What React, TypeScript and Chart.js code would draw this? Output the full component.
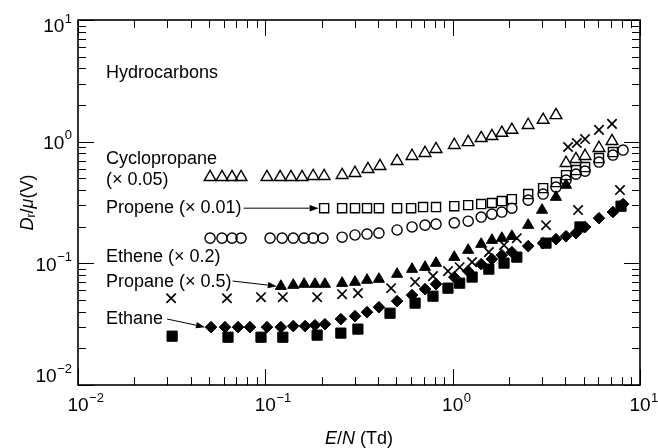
import React, { useEffect, useRef } from "react";
import { Chart, registerables } from "chart.js";
Chart.register(...registerables);

// ---- data (E/N in Td, Dr/mu in V) ----
const openTriX = [0.0507,0.0587,0.0664,0.0742,0.102,0.120,0.137,0.157,0.180,0.206,0.257,0.301,0.353,0.409,0.505,0.607,0.712,0.815,1.02,1.21,1.42,1.62,1.83,2.07,2.53,3.04,3.56,4.03,4.55,5.09,6.04,7.09];
const openTriY = [0.511,0.511,0.511,0.511,0.511,0.511,0.511,0.511,0.521,0.521,0.531,0.552,0.595,0.630,0.692,0.762,0.806,0.869,0.938,0.99,1.07,1.11,1.18,1.25,1.37,1.51,1.65,0.667,0.719,0.762,0.886,1.01];

const openSqX = [0.206,0.257,0.301,0.349,0.404,0.505,0.600,0.695,0.815,1.02,1.21,1.42,1.62,1.83,2.07,2.53,3.04,3.56,4.03,4.55,5.09,6.04,7.17];
const openSqY = [0.284,0.284,0.284,0.284,0.284,0.284,0.284,0.290,0.290,0.295,0.301,0.307,0.313,0.325,0.337,0.371,0.415,0.465,0.531,0.584,0.618,0.733,0.821];

const openCircX = [0.0507,0.0587,0.0664,0.0742,0.106,0.123,0.141,0.161,0.180,0.203,0.257,0.301,0.349,0.404,0.505,0.607,0.712,0.815,1.02,1.21,1.42,1.62,1.83,2.07,2.53,3.04,3.56,4.03,4.55,5.09,6.04,7.17,8.12];
const openCircY = [0.161,0.161,0.161,0.161,0.161,0.161,0.161,0.161,0.161,0.161,0.164,0.171,0.174,0.177,0.188,0.199,0.206,0.210,0.215,0.222,0.240,0.254,0.264,0.284,0.331,0.371,0.423,0.483,0.541,0.573,0.680,0.776,0.853];

const filledTriX = [0.121,0.141,0.161,0.184,0.208,0.257,0.301,0.349,0.404,0.505,0.607,0.712,0.815,1.02,1.21,1.42,1.62,1.83,2.07,2.53,3.00,3.56,4.03];
const filledTriY = [0.0649,0.0662,0.0675,0.0675,0.0675,0.0687,0.0701,0.0728,0.0742,0.0815,0.0896,0.0930,0.1004,0.1124,0.1284,0.1438,0.155,0.161,0.167,0.206,0.274,0.350,0.440];

const crossX = [0.0314,0.0624,0.0948,0.124,0.189,0.257,0.312,0.469,0.630,0.785,0.944,1.09,1.27,1.56,1.88,2.20,3.15,4.67,7.82,4.13,4.60,5.09,6.04,7.09];
const crossY = [0.0517,0.0517,0.0527,0.0527,0.0527,0.0558,0.0569,0.0625,0.0701,0.0785,0.0863,0.0930,0.1023,0.1236,0.1411,0.161,0.206,0.274,0.400,0.903,0.974,1.05,1.25,1.40];

const filledSqX = [0.0318,0.0632,0.0948,0.124,0.189,0.253,0.312,0.463,0.630,0.785,0.944,1.09,1.27,1.56,1.88,2.20,3.15,4.78,7.92];
const filledSqY = [0.0252,0.0247,0.0247,0.0247,0.0257,0.0267,0.0288,0.0389,0.0471,0.0537,0.0625,0.0687,0.0771,0.0896,0.1004,0.1124,0.1466,0.199,0.295];

const diamondX = [0.0513,0.0609,0.0715,0.0828,0.102,0.121,0.141,0.163,0.184,0.208,0.253,0.301,0.349,0.404,0.505,0.607,0.712,0.815,1.02,1.21,1.42,1.62,1.83,2.07,2.53,3.04,3.56,4.03,4.55,5.09,6.04,7.17,8.12];
const diamondY = [0.0299,0.0299,0.0299,0.0299,0.0299,0.0299,0.0305,0.0305,0.0310,0.0316,0.0348,0.0368,0.0397,0.0436,0.0489,0.0548,0.0614,0.0675,0.0770,0.0863,0.0985,0.1083,0.1168,0.1236,0.1385,0.1466,0.158,0.167,0.177,0.199,0.235,0.264,0.307];

const xDecades = [-2, -1, 0, 1];
const yDecades = [-2, -1, 0, 1];
const xTickSup = ["\u22122", "\u22121", "0", "1"];
const yTickSup = ["\u22122", "\u22121", "0", "1"];

const panelTitle = "Hydrocarbons";
const seriesLabels = ["Cyclopropane", "(\u00d7 0.05)", "Propene (\u00d7 0.01)", "Ethene (\u00d7 0.2)", "Propane (\u00d7 0.5)", "Ethane"];

const FF = '"Liberation Sans", Arial, Helvetica, sans-serif';
const f = (size: number, italic = false) => `${italic ? "italic " : ""}${size}px ${FF}`;

const zip = (xs: number[], ys: number[]) => xs.map((x, i) => ({ x, y: ys[i] }));

function arrow(ctx: CanvasRenderingContext2D, x1: number, y1: number, x2: number, y2: number) {
  const ang = Math.atan2(y2 - y1, x2 - x1);
  const hl = 9, hw = 3.2;
  const bx = x2 - hl * Math.cos(ang), by = y2 - hl * Math.sin(ang);
  ctx.beginPath();
  ctx.moveTo(x1, y1);
  ctx.lineTo(bx, by);
  ctx.lineWidth = 1;
  ctx.strokeStyle = "#000";
  ctx.stroke();
  ctx.beginPath();
  ctx.moveTo(x2, y2);
  ctx.lineTo(bx - hw * Math.sin(ang), by + hw * Math.cos(ang));
  ctx.lineTo(bx + hw * Math.sin(ang), by - hw * Math.cos(ang));
  ctx.closePath();
  ctx.fillStyle = "#000";
  ctx.fill();
}

const decor = {
  id: "decor",
  afterDraw(chart: any) {
    const ctx: CanvasRenderingContext2D = chart.ctx;
    const { left, right, top, bottom } = chart.chartArea;
    const xs = chart.scales.x, ys = chart.scales.y;
    ctx.save();
    ctx.strokeStyle = "#000";
    ctx.fillStyle = "#000";
    // frame
    ctx.lineWidth = 1.6;
    ctx.strokeRect(left, top, right - left, bottom - top);
    // ticks
    ctx.lineWidth = 1;
    const major = 16, minor = 8;
    ctx.beginPath();
    for (let d = -2; d <= 1; d++) {
      for (let k = 1; k <= 9; k++) {
        if (d === 1 && k > 1) break;
        const v = k * Math.pow(10, d);
        const len = k === 1 ? major : minor;
        const px = Math.round(xs.getPixelForValue(v)) + 0.5;
        const py = Math.round(ys.getPixelForValue(v)) + 0.5;
        ctx.moveTo(px, bottom); ctx.lineTo(px, bottom - len);
        ctx.moveTo(px, top); ctx.lineTo(px, top + len);
        ctx.moveTo(left, py); ctx.lineTo(left + len, py);
        ctx.moveTo(right, py); ctx.lineTo(right - len, py);
      }
    }
    ctx.stroke();

    // tick labels
    ctx.textBaseline = "middle";
    xDecades.forEach((d, i) => {
      const px = xs.getPixelForValue(Math.pow(10, d));
      ctx.font = f(19);
      const w = ctx.measureText("10").width;
      ctx.textAlign = "center";
      ctx.fillText("10", px, 406);
      ctx.font = f(13);
      ctx.textAlign = "left";
      ctx.fillText(xTickSup[i], px + w / 2 + 0.5, 398);
    });
    const yLabelShift = [-8, 2, 2, 7];
    yDecades.forEach((d, i) => {
      const py = ys.getPixelForValue(Math.pow(10, d)) + yLabelShift[i];
      ctx.font = f(13);
      const ws = ctx.measureText(yTickSup[i]).width;
      ctx.font = f(19);
      const w = ctx.measureText("10").width;
      const xEnd = 72;
      ctx.textAlign = "left";
      ctx.fillText("10", xEnd - ws - 0.5 - w, py);
      ctx.font = f(13);
      ctx.fillText(yTickSup[i], xEnd - ws, py - 8);
    });

    // x axis title
    ctx.textAlign = "left";
    const runsX: [string, boolean][] = [["E", true], ["/", false], ["N", true], [" (Td)", false]];
    let tw = 0;
    runsX.forEach(([t, it]) => { ctx.font = f(18, it); tw += ctx.measureText(t).width; });
    let cx = (left + right) / 2 - tw / 2;
    runsX.forEach(([t, it]) => { ctx.font = f(18, it); ctx.fillText(t, cx, 439); cx += ctx.measureText(t).width; });

    // y axis title (rotated)
    ctx.save();
    ctx.translate(28, (top + bottom) / 2);
    ctx.rotate(-Math.PI / 2);
    const runsY: [string, number, boolean, number][] = [["D", 18, true, 0], ["r", 12, false, 4], ["/", 18, false, 0], ["\u03bc", 18, true, 0], ["(V)", 18, false, 0]];
    let yw = 0;
    runsY.forEach(([t, s, it]) => { ctx.font = f(s, it); yw += ctx.measureText(t).width; });
    let cy = -yw / 2;
    runsY.forEach(([t, s, it, dy]) => { ctx.font = f(s, it); ctx.fillText(t, cy, dy); cy += ctx.measureText(t).width; });
    ctx.restore();

    // annotations
    ctx.font = f(18);
    ctx.textAlign = "left";
    ctx.fillText(panelTitle, 106, 73);
    ctx.fillText(seriesLabels[0], 106, 159);
    ctx.fillText(seriesLabels[1], 106, 180);
    ctx.fillText(seriesLabels[2], 106, 208);
    ctx.fillText(seriesLabels[3], 106, 257);
    ctx.fillText(seriesLabels[4], 106, 282);
    ctx.fillText(seriesLabels[5], 106, 319);

    const w2 = ctx.measureText(seriesLabels[2]).width;
    const sqx = xs.getPixelForValue(openSqX[0]), sqy = ys.getPixelForValue(openSqY[0]);
    arrow(ctx, 106 + w2 + 2, sqy, sqx - 5.5, sqy);
    const w4 = ctx.measureText(seriesLabels[4]).width;
    const tx = xs.getPixelForValue(filledTriX[0]), ty = ys.getPixelForValue(filledTriY[0]);
    arrow(ctx, 106 + w4 + 1, 281, tx - 4, ty);
    const w5 = ctx.measureText(seriesLabels[5]).width;
    const dx = xs.getPixelForValue(diamondX[0]), dy = ys.getPixelForValue(diamondY[0]);
    arrow(ctx, 106 + w5 + 4, 319, dx - 6, dy);

    ctx.restore();
  },
};

export default function App() {
  const ref = useRef<HTMLCanvasElement>(null);
  useEffect(() => {
    if (!ref.current) return;
    const base = { showLine: false, borderColor: "#000" };
    const chart = new Chart(ref.current, {
      type: "scatter",
      data: {
        datasets: [
          { ...base, label: "open triangles", data: zip(openTriX, openTriY), pointStyle: "triangle", pointRadius: 6.8, borderWidth: 1.4, backgroundColor: "rgba(0,0,0,0)" },
          { ...base, label: "open squares", data: zip(openSqX, openSqY), pointStyle: "rect", pointRadius: 6.4, borderWidth: 1.4, backgroundColor: "rgba(0,0,0,0)" },
          { ...base, label: "open circles", data: zip(openCircX, openCircY), pointStyle: "circle", pointRadius: 5.1, borderWidth: 1.4, backgroundColor: "rgba(0,0,0,0)" },
          { ...base, label: "filled triangles", data: zip(filledTriX, filledTriY), pointStyle: "triangle", pointRadius: 6.4, borderWidth: 1, backgroundColor: "#000" },
          { ...base, label: "crosses", data: zip(crossX, crossY), pointStyle: "crossRot", pointRadius: 6.6, borderWidth: 1.7, backgroundColor: "#000" },
          { ...base, label: "filled squares", data: zip(filledSqX, filledSqY), pointStyle: "rect", pointRadius: 7.2, borderWidth: 1, backgroundColor: "#000" },
          { ...base, label: "diamonds", data: zip(diamondX, diamondY), pointStyle: "rectRot", pointRadius: 5.8, borderWidth: 1, backgroundColor: "#000" },
        ],
      },
      options: {
        responsive: false,
        animation: false,
        devicePixelRatio: 1,
        layout: { padding: { left: 78, right: 18, top: 20, bottom: 63 } },
        plugins: { legend: { display: false }, tooltip: { enabled: false } },
        events: [],
        scales: {
          x: { type: "logarithmic", min: 0.01, max: 10, display: false },
          y: { type: "logarithmic", min: 0.01, max: 10, display: false },
        },
      },
      plugins: [decor],
    } as any);
    return () => chart.destroy();
  }, []);
  return (
    <div style={{ position: "absolute", left: 0, top: 0, width: 658, height: 448, background: "#fff" }}>
      <canvas ref={ref} width={658} height={448} style={{ width: 658, height: 448, display: "block" }} />
    </div>
  );
}
